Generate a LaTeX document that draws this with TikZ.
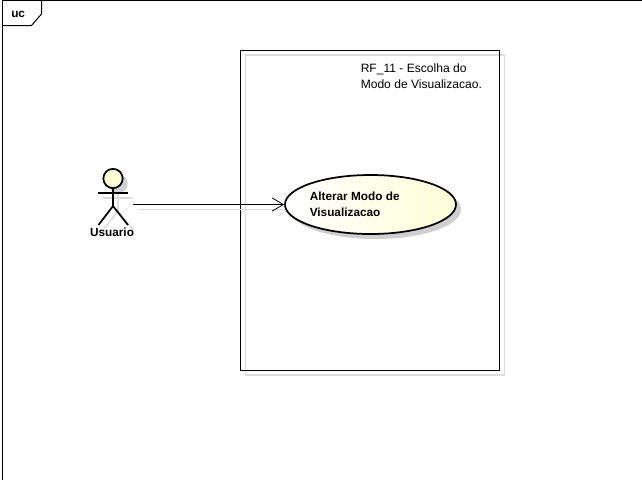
\documentclass[tikz,border=0pt]{standalone}
\usepackage{fontspec}
\setmainfont{Liberation Sans}
\usetikzlibrary{arrows.meta,shapes.geometric,positioning}
\definecolor{shadowgray}{HTML}{DDDDDD}
\definecolor{softgray}{HTML}{CFCFCF}
\definecolor{paleyellow}{HTML}{FFFFD8}
\tikzset{
  line/.style={draw=black, line width=0.75pt},
  thick line/.style={draw=black, line width=1.3pt},
  shadow line/.style={draw=shadowgray, line width=1.1pt},
  label/.style={inner sep=0pt, align=left, anchor=west, font=\fontsize{9.05pt}{12pt}\selectfont},
  bold label/.style={label, font=\fontsize{8.85pt}{11.6pt}\selectfont\bfseries},
  barb/.style={-{Straight Barb[length=8.5pt, width=10pt, line width=0.6pt]}},
}
\begin{document}
\begin{tikzpicture}[x=0.75pt, y=-0.75pt]
\useasboundingbox (0,0) rectangle (642,480);

% frame
\draw[line] (2.5,480) -- (2.5,0.5) -- (642,0.5);
\draw[line] (2.5,25.5) -- (31.5,25.5) -- (41.5,14) -- (41.5,0.5);
\node[bold label] (uc) at (11,14) {uc};

% system boundary
\node[rectangle, shadow line, minimum width=194pt, minimum height=240pt, inner sep=0pt] (boundaryshadow) at (375,215) {};
\node[rectangle, line, line width=1pt, minimum width=194pt, minimum height=240pt, inner sep=0pt] (boundary) at (370,210.5) {};
\node[label] (title) at (360.5,76) {RF\_11 - Escolha do\\Modo de Visualizacao.};

% actor shadow
\node[circle, fill=softgray, minimum size=14.5pt, inner sep=0pt] (headshadow) at (118,183.5) {};
\draw[shadow line] (headshadow) -- (118,211) coordinate (hipshadow);
\draw[shadow line] (103,198) coordinate (armshadow) -- (133,198);
\draw[shadow line] (hipshadow) -- (103,230);
\draw[shadow line] (hipshadow) -- (133,230);

% connector
\coordinate (usuarioend) at (133,204.5);
\coordinate (usuarioendshadow) at (138,209.5);
\node[ellipse, fill=softgray, minimum width=128.25pt, minimum height=44.25pt, inner sep=0pt] (alterarshadow) at (375.5,209.5) {};
\draw[shadow line, barb] (usuarioendshadow) -- (alterarshadow.west);
\node[ellipse, thick line, left color=white, right color=paleyellow, minimum width=128.25pt, minimum height=44.25pt, inner sep=0pt] (alterar) at (370.5,204.5) {};
\draw[line, barb] (usuarioend) -- (alterar.west);
\node[bold label] (alterartext) at (309.5,204.5) {Alterar Modo de\\Visualizacao};

% actor
\node[circle, thick line, fill=paleyellow, minimum size=14.5pt, inner sep=0pt] (head) at (113,178.5) {};
\draw[thick line] (head) -- (113,206) coordinate (hip);
\draw[thick line] (98,193) coordinate (arm) -- (128,193);
\draw[thick line] (hip) -- (98.5,225);
\draw[thick line] (hip) -- (128,225);
\node[bold label, anchor=center] (usuario) at (112,232.5) {Usuario};
\end{tikzpicture}
\end{document}
